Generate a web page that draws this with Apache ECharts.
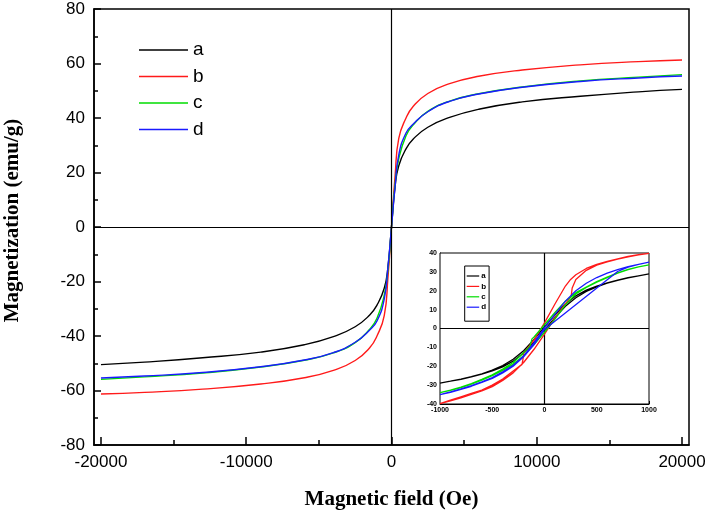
<!DOCTYPE html>
<html>
<head>
<meta charset="utf-8">
<script src="https://cdn.jsdelivr.net/npm/echarts@6.0.0/dist/echarts.min.js"></script>
<style>
  html, body { margin: 0; padding: 0; background: #fff; }
  #chart { width: 708px; height: 510px; }
</style>
</head>
<body>
<div id="chart"></div>
<script>
// 主图数据：磁场 (Oe) 与磁化强度 (emu/g)
var fieldMain = [-20000, -17000, -13000, -9000, -6000, -4000, -2500, -1500, -1000, -500, -250, 0, 250, 500, 1000, 1500, 2500, 4000, 6000, 9000, 13000, 17000, 20000];
var magA = [-50.5, -49.6, -48, -45.9, -43.2, -40.2, -36.6, -32.3, -28.7, -22.5, -15, 0, 15, 22.5, 28.7, 32.3, 36.6, 40.2, 43.2, 45.9, 48, 49.6, 50.5];
var magB = [-61.3, -60.7, -59.5, -57.6, -55.3, -52.6, -49, -44.3, -40, -32.5, -19, 0, 19, 32.5, 40, 44.3, 49, 52.6, 55.3, 57.6, 59.5, 60.7, 61.3];
var magC = [-55.9, -55, -53.6, -51.4, -48.9, -46.2, -42.4, -37.5, -33.5, -25, -16, 0, 16, 25, 33.5, 37.5, 42.4, 46.2, 48.9, 51.4, 53.6, 55, 55.9];
var magD = [-55.4, -54.7, -53.4, -51.3, -48.8, -46.1, -42.3, -37.8, -34.5, -26.5, -15, 0, 15, 26.5, 34.5, 37.8, 42.3, 46.1, 48.8, 51.3, 53.4, 54.7, 55.4];

// 刻度
var xTicksMain = [-20000, -10000, 0, 10000, 20000];
var xMinorMain = [-15000, -5000, 5000, 15000];

// 插图（回线）数据
var insetField = [-1000, -900, -800, -700, -600, -500, -400, -300, -200, -100, 0, 100, 200, 300, 400, 500, 600, 700, 800, 900, 1000];
var aAsc = [-28.9, -27.9, -26.9, -25.6, -24.2, -22.5, -20.3, -17.3, -13, -7.2, -0.8, 5.8, 11.8, 16.3, 19.6, 22.1, 24, 25.5, 26.8, 27.9, 28.9];
var aDesc = [-28.9, -27.9, -26.8, -25.5, -24, -22.1, -19.6, -16.3, -11.8, -5.8, 0.8, 7.2, 13, 17.3, 20.3, 22.5, 24.2, 25.6, 26.9, 27.9, 28.9];

var bAscField = [-1000, -900, -800, -700, -600, -500, -400, -300, -200, -100, 0, 100, 200, 255, 265, 300, 400, 500, 600, 700, 800, 900, 1000];
var bAsc = [-39.8, -38.3, -36.7, -34.9, -33.1, -30.8, -27.5, -23.5, -18, -11, -3, 5.5, 13, 17, 21.5, 26, 30.8, 33.6, 35.3, 36.7, 38, 39, 39.8];
var bDescField = [-1000, -900, -800, -700, -600, -500, -400, -300, -215, -205, -200, -100, 0, 100, 200, 250, 300, 400, 500, 600, 700, 800, 900, 1000];
var bDesc = [-39.8, -38, -36.2, -34.4, -32.6, -30, -26.8, -22.5, -19, -16, -13, -6, 3, 13, 22.5, 26, 28.5, 31.8, 34, 35.6, 36.9, 38.2, 39.1, 39.8];

var cAsc = [-34, -32.8, -31.3, -29.5, -27.3, -25, -22.2, -19, -14.5, -8.5, -2, 5, 12.5, 18.3, 21.8, 24.5, 27, 29.3, 31.2, 32.6, 33.7];
var cDescField = [-1000, -900, -800, -700, -600, -500, -400, -300, -200, -140, -120, -100, 0, 100, 200, 300, 400, 500, 600, 700, 800, 900, 1000];
var cDesc = [-34, -32.6, -31, -29.2, -27, -24.5, -21.5, -18, -12.8, -9.5, -5.5, -4.5, 2, 8.5, 14.5, 19, 22, 24.8, 27.2, 29.5, 31.3, 32.6, 33.7];

var dAscField = [-1000, -900, -800, -700, -600, -500, -400, -300, -200, -100, 0, 700, 800, 900, 1000];
var dAsc = [-35, -33.8, -32.3, -30.6, -28.6, -26.4, -23.5, -20, -15, -8.5, -0.5, 30.2, 32.5, 34, 35.2];
var dDesc = [-35, -33.6, -32, -30.3, -28.3, -26, -23, -19.5, -14.5, -7.5, 0.5, 7.5, 14.5, 20, 24, 27, 29.3, 31.2, 32.8, 34, 35.2];

var names = ['a', 'b', 'c', 'd'];
var colors = ['#000000', '#ff1a1a', '#00dd00', '#1a1aff'];

function pairs(xs, ys) {
    var out = [];
    for (var i = 0; i < xs.length; i++) { out.push([xs[i], ys[i]]); }
    return out;
}
// 升场分支 + 降场分支（倒序）连成一条回线
function loop(ascX, ascY, descX, descY) {
    return pairs(ascX, ascY).concat(pairs(descX, descY).reverse());
}
// 不要千位分隔符
function plain(v) { return String(v); }

var mainMags = [magA, magB, magC, magD];
var insetLoops = [
    loop(insetField, aAsc, insetField, aDesc),
    loop(bAscField, bAsc, bDescField, bDesc),
    loop(insetField, cAsc, cDescField, cDesc),
    loop(dAscField, dAsc, insetField, dDesc)
];

var sansFont = 'Liberation Sans';
var serifFont = 'Liberation Serif';
var zeroLines = {
    silent: true,
    symbol: 'none',
    label: { show: false },
    lineStyle: { color: '#000', width: 1.2, type: 'solid' },
    data: [{ yAxis: 0 }, { xAxis: 0 }]
};

var series = [];
for (var i = 0; i < 4; i++) {
    series.push({
        name: names[i],
        type: 'line',
        xAxisIndex: 0,
        yAxisIndex: 0,
        data: pairs(fieldMain, mainMags[i]),
        showSymbol: false,
        smooth: 0.5,
        lineStyle: { color: colors[i], width: 1.4 },
        itemStyle: { color: colors[i] },
        markLine: i === 0 ? zeroLines : undefined,
        z: 3
    });
}
for (var j = 0; j < 4; j++) {
    series.push({
        name: names[j],
        type: 'line',
        xAxisIndex: 2,
        yAxisIndex: 1,
        data: insetLoops[j],
        showSymbol: false,
        smooth: false,
        lineStyle: { color: colors[j], width: 1.3 },
        itemStyle: { color: colors[j] },
        markLine: j === 0 ? zeroLines : undefined,
        z: 5
    });
}

var myChart = echarts.init(document.getElementById('chart'), null, { renderer: 'canvas' });
var option = {
    backgroundColor: '#fff',
    animation: false,
    grid: [
        { left: 94, right: 19, top: 9, bottom: 65, outerBoundsMode: 'none', show: true, borderColor: '#000', borderWidth: 1.5, backgroundColor: '#fff' },
        { left: 440, right: 59, top: 253, bottom: 106, outerBoundsMode: 'none', show: true, borderColor: '#000', borderWidth: 1, backgroundColor: '#fff', z: 4 }
    ],
    legend: [
        {
            data: names,
            orient: 'vertical',
            left: 134,
            top: 35,
            padding: 5,
            icon: 'rect',
            itemWidth: 49,
            itemHeight: 1.5,
            itemGap: 6.5,
            selectedMode: false,
            textStyle: { fontFamily: sansFont, fontSize: 19, lineHeight: 20, color: '#000' }
        },
        {
            data: names,
            orient: 'vertical',
            left: 464.7,
            top: 266,
            padding: [6, 3, 10, 2],
            borderColor: '#000',
            borderWidth: 1,
            icon: 'rect',
            itemWidth: 12.5,
            itemHeight: 1.2,
            itemGap: 2.4,
            selectedMode: false,
            z: 6,
            textStyle: { fontFamily: sansFont, fontSize: 8, fontWeight: 'bold', lineHeight: 8, color: '#000', padding: [0, 0, 0, -3] }
        }
    ],
    xAxis: [
        {
            gridIndex: 0,
            type: 'value',
            min: -20480,
            max: 20480,
            name: 'Magnetic field (Oe)',
            nameLocation: 'middle',
            nameGap: 44,
            nameTextStyle: { fontFamily: serifFont, fontWeight: 'bold', fontSize: 21, color: '#000' },
            axisLine: { onZero: false, lineStyle: { color: '#000', width: 1.5 } },
            axisTick: { inside: true, length: 8, customValues: xTicksMain, lineStyle: { color: '#000', width: 1.5 } },
            axisLabel: { customValues: xTicksMain, formatter: plain, margin: 9, fontFamily: sansFont, fontSize: 17, color: '#000' },
            splitLine: { show: false }
        },
        {
            gridIndex: 0,
            type: 'value',
            position: 'bottom',
            min: -20480,
            max: 20480,
            axisLine: { show: false, onZero: false },
            axisTick: { inside: true, length: 5, customValues: xMinorMain, lineStyle: { color: '#000', width: 1.5 } },
            axisLabel: { show: false },
            splitLine: { show: false }
        },
        {
            gridIndex: 1,
            type: 'value',
            min: -1000,
            max: 1000,
            interval: 500,
            axisLine: { onZero: false, lineStyle: { color: '#000', width: 1 } },
            axisTick: { inside: true, length: 3, lineStyle: { color: '#000' } },
            minorTick: { show: true, splitNumber: 2, length: 2, lineStyle: { color: '#000' } },
            axisLabel: { formatter: plain, margin: 3, fontFamily: sansFont, fontSize: 7, fontWeight: 'bold', color: '#000' },
            splitLine: { show: false }
        }
    ],
    yAxis: [
        {
            gridIndex: 0,
            type: 'value',
            min: -80,
            max: 80,
            interval: 20,
            name: 'Magnetization (emu/g)',
            nameLocation: 'middle',
            nameGap: 71,
            nameTextStyle: { fontFamily: serifFont, fontWeight: 'bold', fontSize: 21, color: '#000', padding: [0, 0, 0, 13] },
            axisLine: { onZero: false, lineStyle: { color: '#000', width: 1.5 } },
            axisTick: { inside: true, length: 7, lineStyle: { color: '#000', width: 1.5 } },
            minorTick: { show: true, splitNumber: 2, length: 4, lineStyle: { color: '#000', width: 1.5 } },
            axisLabel: { margin: 9, fontFamily: sansFont, fontSize: 17, color: '#000' },
            splitLine: { show: false }
        },
        {
            gridIndex: 1,
            type: 'value',
            min: -40,
            max: 40,
            interval: 10,
            axisLine: { onZero: false, lineStyle: { color: '#000', width: 1 } },
            axisTick: { inside: true, length: 3, lineStyle: { color: '#000' } },
            minorTick: { show: true, splitNumber: 2, length: 2, lineStyle: { color: '#000' } },
            axisLabel: { margin: 3, fontFamily: sansFont, fontSize: 7, fontWeight: 'bold', color: '#000' },
            splitLine: { show: false }
        }
    ],
    series: series
};
myChart.setOption(option);
</script>
</body>
</html>
